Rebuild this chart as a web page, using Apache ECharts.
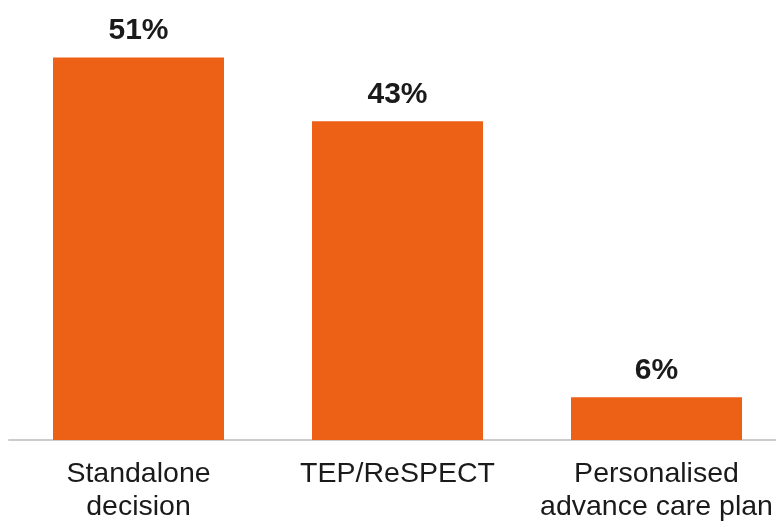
<!DOCTYPE html>
<html>
<head>
<meta charset="utf-8">
<script src="https://cdn.jsdelivr.net/npm/echarts@6/dist/echarts.min.js"></script>
<style>
  html, body { margin: 0; padding: 0; background: #fff; }
  #chart { width: 776px; height: 527px; }
</style>
</head>
<body>
<div id="chart"></div>
<script>
// 分类名称
const categories = ['Standalone\ndecision', 'TEP/ReSPECT', 'Personalised\nadvance care plan'];
// 柱子数值（百分比，按图中高度估读）
const shares = [51, 42.5, 5.7];
// 柱顶标签
const barLabels = ['51%', '43%', '6%'];

const chart = echarts.init(document.getElementById('chart'));

chart.setOption({
  animation: false,
  grid: { left: 9, top: 5, right: -10, bottom: 87, containLabel: false, outerBoundsMode: 'none' },
  xAxis: {
    type: 'category',
    data: categories,
    axisTick: { show: false },
    axisLine: { lineStyle: { color: '#cccccc', width: 2 } },
    axisLabel: {
      interval: 0,
      margin: 18,
      fontFamily: 'Liberation Sans, Arial, sans-serif',
      fontSize: 28.5,
      lineHeight: 33,
      color: '#1a1a1a'
    }
  },
  yAxis: {
    type: 'value',
    min: 0,
    max: 58,
    show: false,
    splitLine: { show: false }
  },
  series: [{
    type: 'bar',
    data: shares,
    barWidth: 171,
    itemStyle: { color: '#ED6117' },
    label: {
      show: true,
      position: 'top',
      distance: 12,
      fontFamily: 'Liberation Sans, Arial, sans-serif',
      fontWeight: 'bold',
      fontSize: 30,
      color: '#1a1a1a',
      formatter: p => barLabels[p.dataIndex]
    }
  }]
});
</script>
</body>
</html>
